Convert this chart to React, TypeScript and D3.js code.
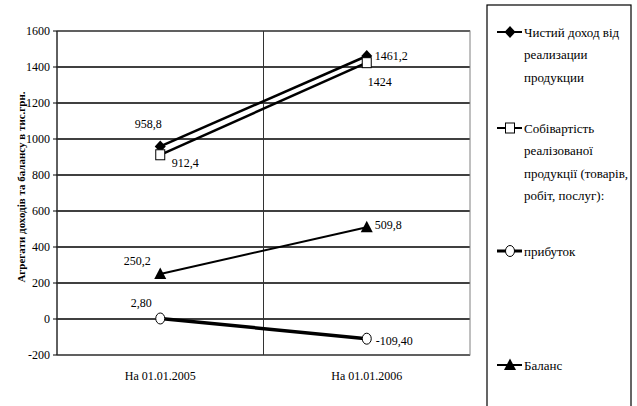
import React from "react";
import * as d3 from "d3";

const categories = ["На 01.01.2005", "На 01.01.2006"];
const seriesNames = [
  ["Чистий доход  від", "реализации", "продукции"],
  ["Собівартість", "реалізованої", "продукції (товарів,", "робіт, послуг):"],
  ["прибуток"],
  ["Баланс"],
];
const revenue = [958.8, 1461.2];
const cost = [912.4, 1424];
const profit = [2.8, -109.4];
const balance = [250.2, 509.8];
const revenueLabels = ["958,8", "1461,2"];
const costLabels = ["912,4", "1424"];
const profitLabels = ["2,80", "-109,40"];
const balanceLabels = ["250,2", "509,8"];
const yTicks = [-200, 0, 200, 400, 600, 800, 1000, 1200, 1400, 1600];
const yTitle = "Агрегати доходів та балансу в тис.грн.";

const W = 637;
const H = 406;
const L = 57, R = 470, T = 31, B = 355;
const FONT = "Liberation Serif, DejaVu Serif, serif";

function Marker({ type, x, y }: { type: string; x: number; y: number }) {
  if (type === "diamond")
    return <path d={`M${x},${y - 6}L${x + 5.5},${y}L${x},${y + 6}L${x - 5.5},${y}Z`} fill="#000" />;
  if (type === "square")
    return <rect x={x - 4.5} y={y - 5} width={9} height={10} fill="#fff" stroke="#000" strokeWidth={1} />;
  if (type === "circle")
    return <ellipse cx={x} cy={y} rx={4.5} ry={5.5} fill="#fff" stroke="#000" strokeWidth={1} />;
  return <path d={`M${x},${y - 6.5}L${x + 6},${y + 5}L${x - 6},${y + 5}Z`} fill="#000" />;
}

export default function App() {
  const x = d3.scalePoint<string>().domain(categories).range([L, R]).padding(0.5);
  const y = d3.scaleLinear().domain([-200, 1600]).range([B, T]);
  const line = d3
    .line<number>()
    .x((_, i) => x(categories[i]) as number)
    .y((d) => y(d));

  const series = [
    { data: revenue, labels: revenueLabels, marker: "diamond", w: 2.5, dx: [-12, 8], dy: [-23, 0], anchor: ["middle", "start"] },
    { data: cost, labels: costLabels, marker: "square", w: 2.5, dx: [25, 13], dy: [8, 19], anchor: ["middle", "middle"] },
    { data: profit, labels: profitLabels, marker: "circle", w: 3.5, dx: [-19, 9], dy: [-16, 2], anchor: ["middle", "start"] },
    { data: balance, labels: balanceLabels, marker: "triangle", w: 2, dx: [-23, 8], dy: [-13, -2], anchor: ["middle", "start"] },
  ];

  const legendY = [32, 128, 251, 365];
  const lineGap = 22.5;

  return (
    <div style={{ position: "absolute", left: 0, top: 0, width: W, height: H, background: "#fff" }}>
      <svg width={W} height={H} style={{ display: "block" }}>
        {yTicks.map((t) => (
          <line key={t} x1={L} x2={R} y1={y(t)} y2={y(t)} stroke="#000" strokeWidth={1.3} />
        ))}
        <rect x={L} y={T} width={R - L} height={B - T} fill="none" stroke="#808080" strokeWidth={1} />
        <line x1={(L + R) / 2} x2={(L + R) / 2} y1={T} y2={B} stroke="#333" strokeWidth={1} />
        <line x1={L} x2={L} y1={T} y2={B} stroke="#000" strokeWidth={1} />
        {yTicks.map((t) => (
          <g key={"t" + t}>
            <line x1={L - 4} x2={L} y1={y(t)} y2={y(t)} stroke="#000" strokeWidth={1} />
            <text x={L - 7} y={y(t)} dy="0.35em" textAnchor="end" fontSize={12} fontFamily={FONT}>
              {t}
            </text>
          </g>
        ))}
        {categories.map((c) => (
          <text key={c} x={x(c)} y={380} textAnchor="middle" fontSize={12} fontFamily={FONT}>
            {c}
          </text>
        ))}
        <text
          transform={`translate(25,${(T + B) / 2 - 6}) rotate(-90)`}
          textAnchor="middle"
          fontSize={11}
          fontWeight="bold"
          fontFamily={FONT}
        >
          {yTitle}
        </text>
        {series.map((s, i) => (
          <path key={"l" + i} d={line(s.data) as string} fill="none" stroke="#000" strokeWidth={s.w} />
        ))}
        {series.map((s, i) =>
          s.data.map((v, j) => (
            <Marker key={"m" + i + j} type={s.marker} x={x(categories[j]) as number} y={y(v)} />
          ))
        )}
        {series.map((s, i) =>
          s.data.map((v, j) => (
            <text
              key={"d" + i + j}
              x={(x(categories[j]) as number) + s.dx[j]}
              y={y(v) + s.dy[j]}
              dy="0.35em"
              textAnchor={s.anchor[j]}
              fontSize={12}
              fontFamily={FONT}
            >
              {s.labels[j]}
            </text>
          ))
        )}
        <rect x={487} y={5} width={144} height={410} fill="#fff" stroke="#000" strokeWidth={1.2} />
        {series.map((s, i) => (
          <g key={"lg" + i}>
            <line x1={497} x2={522} y1={legendY[i]} y2={legendY[i]} stroke="#000" strokeWidth={i === 2 ? 3 : 2} />
            <Marker type={s.marker} x={510} y={legendY[i]} />
            {seriesNames[i].map((n, k) => (
              <text key={k} x={524} y={legendY[i] + k * lineGap} dy="0.35em" fontSize={13} fontFamily={FONT}>
                {n}
              </text>
            ))}
          </g>
        ))}
      </svg>
    </div>
  );
}
